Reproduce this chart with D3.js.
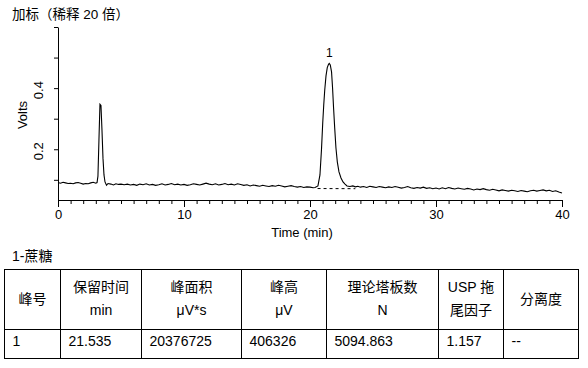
<!DOCTYPE html>
<html><head><meta charset="utf-8">
<script src="https://cdn.jsdelivr.net/npm/d3@7"></script>
<style>
html,body{margin:0;padding:0;background:#fff;}
svg{display:block;}
text{font-family:"Liberation Sans",Arial,"Noto Sans CJK SC",sans-serif;fill:#000;}
</style></head>
<body><svg id="c" width="588" height="368"></svg>
<script>
// ---------- data ----------
const chartTitle = "加标（稀释 20 倍）";
const xTickLabels = [0, 10, 20, 30, 40];
const xMinorTicks = d3.range(0, 41, 1);
const yTickValues = [0.1, 0.2, 0.3, 0.4, 0.5, 0.6];
const yTickLabels = [0.2, 0.4];
const xAxisTitle = "Time (min)";
const yAxisTitle = "Volts";

const traceTime = [
 0.0,0.2,0.4,0.6,0.8,1.0,1.2,1.4,1.6,1.8,2.0,2.2,2.4,2.6,2.8,3.0,3.1,
 3.17,3.25,3.33,3.41,3.49,3.57,3.65,3.73,3.85,3.97,
 4.2,4.4,4.6,4.8,5.0,5.25,5.5,5.75,6.0,6.25,6.5,6.75,7.0,7.25,7.5,7.75,8.0,8.25,8.5,8.75,
 9.0,9.25,9.5,9.75,10.0,10.25,10.5,10.75,11.0,11.25,11.5,11.75,12.0,12.25,12.5,12.75,
 13.0,13.25,13.5,13.75,14.0,14.25,14.5,14.75,15.0,15.25,15.5,15.75,16.0,16.25,16.5,16.75,
 17.0,17.25,17.5,17.75,18.0,18.25,18.5,18.75,19.0,19.25,19.5,19.75,20.0,20.25,20.4,
 20.63,20.79,20.91,21.01,21.09,21.17,21.27,21.37,21.47,21.53,21.61,21.71,21.79,21.87,21.96,
 22.06,22.17,22.30,22.46,22.62,22.78,22.94,23.17,
 23.4,23.6,23.8,24.0,24.25,24.5,24.75,25.0,25.25,25.5,25.75,26.0,26.25,26.5,26.75,
 27.0,27.25,27.5,27.75,28.0,28.25,28.5,28.75,29.0,29.25,29.5,29.75,30.0,30.25,30.5,30.75,
 31.0,31.25,31.5,31.75,32.0,32.25,32.5,32.75,33.0,33.25,33.5,33.75,34.0,34.25,34.5,34.75,
 35.0,35.25,35.5,35.75,36.0,36.25,36.5,36.75,37.0,37.25,37.5,37.75,38.0,38.25,38.5,38.75,
 39.0,39.25,39.5,39.75,40.0
];
const traceVolts = [
 0.091,0.089,0.092,0.090,0.088,0.089,0.087,0.090,0.091,0.089,0.086,0.088,0.087,0.090,0.092,0.089,0.091,
 0.112,0.230,0.347,0.343,0.263,0.171,0.116,0.093,0.082,0.088,
 0.086,0.083,0.087,0.085,0.086,0.084,0.086,0.083,0.085,0.082,0.086,0.084,0.087,0.083,0.085,0.082,0.084,0.087,0.083,0.085,
 0.088,0.084,0.086,0.083,0.085,0.082,0.084,0.087,0.085,0.083,0.086,0.089,0.086,0.084,0.087,0.083,
 0.085,0.088,0.084,0.086,0.083,0.087,0.085,0.082,0.084,0.080,0.083,0.081,0.079,0.082,0.080,0.078,
 0.081,0.079,0.082,0.080,0.077,0.079,0.081,0.078,0.076,0.078,0.075,0.077,0.076,0.074,0.075,
 0.080,0.116,0.198,0.286,0.345,0.394,0.440,0.467,0.478,0.481,0.476,0.453,0.401,0.336,0.270,
 0.204,0.158,0.126,0.106,0.093,0.086,0.080,0.078,
 0.080,0.077,0.079,0.076,0.078,0.075,0.079,0.077,0.075,0.078,0.076,0.074,0.077,0.075,0.078,
 0.076,0.073,0.075,0.078,0.074,0.072,0.075,0.073,0.076,0.072,0.074,0.071,0.073,0.070,0.074,0.071,
 0.075,0.072,0.070,0.073,0.071,0.069,0.072,0.070,0.067,0.070,0.068,0.071,0.068,0.066,0.069,0.067,
 0.064,0.067,0.065,0.063,0.066,0.064,0.062,0.065,0.063,0.061,0.064,0.066,0.063,0.065,0.067,0.064,
 0.066,0.062,0.064,0.060,0.057
];
// peak baseline (dashed) and peak label
const peakBaseTime = [20.6, 23.6];
const peakBaseVolts = [0.0715, 0.0710];
const peakLabels = ["1"];
const peakTimes = [21.535];
const peakTops = [0.481];

// table
const tableCaption = "1-蔗糖";
const tableHeaders = [["峰号"],["保留时间","min"],["峰面积","μV*s"],["峰高","μV"],["理论塔板数","N"],["USP 拖","尾因子"],["分离度"]];
const tableRow = ["1","21.535","20376725","406326","5094.863","1.157","--"];

// ---------- drawing ----------
const svg = d3.select("#c");
const x = d3.scaleLinear().domain([0, 40]).range([58, 562]);
const y = d3.scaleLinear().domain([0.034, 0.6]).range([200, 27]);

svg.append("text").attr("x", 12).attr("y", 19).style("font-size", "13.5px").text(chartTitle);

// x minor ticks
svg.append("g").attr("transform", "translate(0,200)")
  .call(d3.axisBottom(x).tickValues(xMinorTicks).tickSize(4).tickSizeOuter(0).tickFormat(""))
  .call(g => g.selectAll("line,path").attr("stroke", "#000"));
// x major ticks
const gx = svg.append("g").attr("transform", "translate(0,200)")
  .call(d3.axisBottom(x).tickValues(xTickLabels).tickSize(7).tickSizeOuter(0).tickPadding(3).tickFormat(d3.format("d")));
gx.selectAll("line,path").attr("stroke", "#000");
gx.selectAll("text").style("font-size", "13px").attr("fill", "#000").style("font-family", '"Liberation Sans",Arial,sans-serif');

// y axis
const gy = svg.append("g").attr("transform", "translate(58,0)")
  .call(d3.axisLeft(y).tickValues(yTickValues).tickSize(4).tickSizeOuter(0).tickFormat(""));
gy.selectAll("line,path").attr("stroke", "#000");
svg.selectAll("text.ylab").data(yTickLabels).join("text").attr("class", "ylab")
  .attr("transform", d => `translate(43,${y(d) + 2}) rotate(-90)`)
  .attr("text-anchor", "middle").style("font-size", "13px").text(d3.format(".1f"));

svg.append("text").attr("transform", "translate(27,115) rotate(-90)")
  .attr("text-anchor", "middle").style("font-size", "13px").text(yAxisTitle);
svg.append("text").attr("x", 302).attr("y", 237).attr("text-anchor", "middle")
  .style("font-size", "13px").text(xAxisTitle);

// trace
const pts = traceTime.map((t, i) => [t, traceVolts[i]]);
svg.append("path").datum(pts)
  .attr("d", d3.line().x(d => x(d[0])).y(d => y(d[1])))
  .attr("fill", "none").attr("stroke", "#000").attr("stroke-width", 1.1);

// dashed peak baseline
svg.append("path").datum(peakBaseTime.map((t, i) => [t, peakBaseVolts[i]]))
  .attr("d", d3.line().x(d => x(d[0])).y(d => y(d[1])))
  .attr("fill", "none").attr("stroke", "#000").attr("stroke-width", 1).attr("stroke-dasharray", "3,3");

// peak label
svg.selectAll("text.pk").data(peakLabels).join("text").attr("class", "pk")
  .attr("x", (d, i) => x(peakTimes[i])).attr("y", (d, i) => y(peakTops[i]) - 6)
  .attr("text-anchor", "middle").style("font-size", "12px").text(d => d);

// table
svg.append("text").attr("x", 12).attr("y", 261).style("font-size", "14px").text(tableCaption);
const colX = [4.5, 60.5, 141.5, 241.5, 326.5, 438.5, 503.5, 578.5];
const rowY = [269.5, 329.5, 358.5];
const tg = svg.append("g");
tg.append("rect").attr("x", colX[0]).attr("y", rowY[0]).attr("width", colX[7] - colX[0]).attr("height", rowY[2] - rowY[0])
  .attr("fill", "none").attr("stroke", "#000");
colX.slice(1, -1).forEach(cx => tg.append("line").attr("x1", cx).attr("x2", cx).attr("y1", rowY[0]).attr("y2", rowY[2]).attr("stroke", "#000"));
tg.append("line").attr("x1", colX[0]).attr("x2", colX[7]).attr("y1", rowY[1]).attr("y2", rowY[1]).attr("stroke", "#000");

tableHeaders.forEach((lines, i) => {
  const cx = (colX[i] + colX[i + 1]) / 2;
  if (lines.length === 1) {
    tg.append("text").attr("x", cx).attr("y", 304).attr("text-anchor", "middle").style("font-size", "14px").text(lines[0]);
  } else {
    tg.append("text").attr("x", cx).attr("y", 292).attr("text-anchor", "middle").style("font-size", "14px").text(lines[0]);
    tg.append("text").attr("x", cx).attr("y", 314.5).attr("text-anchor", "middle").style("font-size", "14px").text(lines[1]);
  }
});
tableRow.forEach((v, i) => {
  tg.append("text").attr("x", colX[i] + 8).attr("y", 345.5).style("font-size", "14px").text(v);
});
</script></body></html>
